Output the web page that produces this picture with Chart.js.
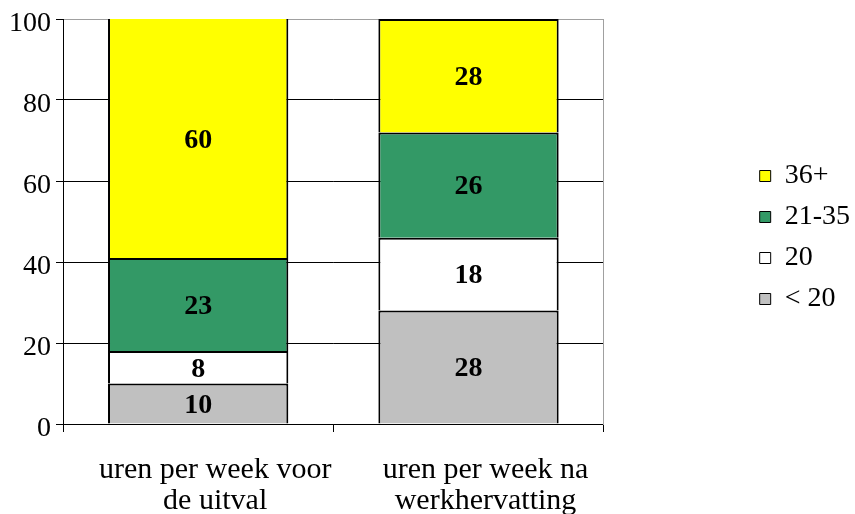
<!DOCTYPE html>
<html>
<head>
<meta charset="utf-8">
<script src="https://cdn.jsdelivr.net/npm/chart.js@4/dist/chart.umd.min.js"></script>
<style>
  html, body { margin: 0; padding: 0; background: #fff; }
  #wrap { width: 855px; height: 514px; }
</style>
</head>
<body>
<div id="wrap"><canvas id="myChart"></canvas></div>
<script>
// categories and series
const categories = [["uren per week voor", "de uitval"], ["uren per week na", "werkhervatting"]];
const seriesNames = ["< 20", "20", "21-35", "36+"];
const under20 = [10, 28];
const exactly20 = [8, 18];
const from21to35 = [23, 26];
const over36 = [60, 28];
const yTicks = [0, 20, 40, 60, 80, 100];

const seriesColors = ["#c0c0c0", "#ffffff", "#339966", "#ffff00"];
const serif = "'Liberation Serif', 'Times New Roman', serif";

const allSeries = [under20, exactly20, from21to35, over36];

const valueLabels = {
  id: "valueLabels",
  afterDatasetsDraw(chart) {
    const ctx = chart.ctx;
    const top = chart.chartArea.top;
    ctx.save();
    ctx.font = "bold 28px " + serif;
    ctx.fillStyle = "#000";
    ctx.textAlign = "center";
    ctx.textBaseline = "middle";
    chart.data.datasets.forEach(function(ds, i) {
      chart.getDatasetMeta(i).data.forEach(function(bar, j) {
        const y = (Math.max(bar.y, top) + bar.base) / 2;
        ctx.fillText(ds.data[j], bar.x, y + 2);
      });
    });
    ctx.restore();
  }
};

const ctx = document.getElementById("myChart").getContext("2d");
const chart = new Chart(ctx, {
  type: "bar",
  data: {
    labels: categories,
    datasets: seriesNames.map(function(name, i) {
      return {
        label: name,
        data: allSeries[i],
        backgroundColor: seriesColors[i],
        borderColor: "#000",
        borderWidth: 2,
        barPercentage: 0.667,
        categoryPercentage: 1
      };
    })
  },
  options: {
    responsive: true,
    maintainAspectRatio: false,
    animation: false,
    layout: { padding: { top: 19, bottom: 0, left: 0, right: -5 } },
    plugins: {
      tooltip: { enabled: false },
      legend: {
        position: "right",
        fullSize: false,
        reverse: true,
        title: { display: true, text: " ", color: "rgba(0,0,0,0)", font: { size: 32, lineHeight: 1 }, padding: 0 },
        labels: {
          color: "#000",
          font: { family: serif, size: 28 },
          boxWidth: 11,
          boxHeight: 11,
          padding: 13,
          generateLabels: function(chart) {
            return Chart.defaults.plugins.legend.labels.generateLabels(chart).map(function(l) {
              l.lineWidth = 1;
              return l;
            });
          }
        }
      }
    },
    scales: {
      x: {
        stacked: true,
        grid: { offset: true, drawOnChartArea: false, drawTicks: true, tickLength: 8, color: "#000" },
        border: { color: "#000", width: 1 },
        ticks: {
          color: "#000",
          font: { family: serif, size: 30, lineHeight: 1.02 },
          padding: 23,
          labelOffset: 17,
          maxRotation: 0,
          autoSkip: false
        },
        afterFit: function(scale) { scale.height = 90; }
      },
      y: {
        stacked: true,
        min: 0,
        max: 100,
        afterBuildTicks: function(scale) {
          scale.ticks = yTicks.map(function(v) { return { value: v }; });
        },
        grid: {
          color: function(c) { return c.tick && c.tick.value === 100 ? "#a0a0a0" : "#000"; },
          tickColor: "#000",
          tickLength: 7
        },
        border: { color: "#000", width: 1 },
        ticks: {
          color: "#000",
          font: { family: serif, size: 28, lineHeight: 1 },
          padding: 5,
          labelOffset: 5
        },
        afterFit: function(scale) { scale.width = 63; }
      },
      yRight: {
        position: "right",
        grid: { drawOnChartArea: false, drawTicks: false },
        border: { display: true, color: "#a0a0a0", width: 1 },
        ticks: { display: false },
        afterFit: function(scale) { scale.width = 143; }
      }
    }
  },
  plugins: [valueLabels]
});
</script>
</body>
</html>
